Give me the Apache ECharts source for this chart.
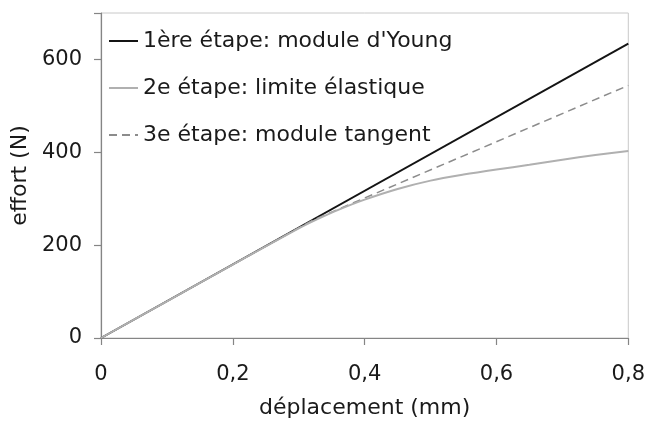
<!DOCTYPE html>
<html>
<head>
<meta charset="utf-8">
<script src="https://cdn.jsdelivr.net/npm/echarts@6/dist/echarts.min.js"></script>
<style>
html, body { margin: 0; padding: 0; background: #fff; }
#chart { width: 648px; height: 424px; }
</style>
</head>
<body>
<div id="chart"></div>
<script>
// noms des séries
var seriesNames = ["1ère étape: module d'Young", "2e étape: limite élastique", "3e étape: module tangent"];
// 1ère étape : droite élastique
var young = [[0, 0], [0.8, 634]];
// 2e étape : courbe avec limite élastique
var limite = [[0, 0], [0.1, 79], [0.2, 158], [0.3, 236], [0.33, 257], [0.36, 276], [0.4, 298],
    [0.45, 321], [0.5, 339], [0.55, 352], [0.6, 363], [0.65, 373], [0.7, 384], [0.75, 394], [0.8, 403]];
// 3e étape : module tangent
var tangent = [[0, 0], [0.32, 253], [0.8, 544]];
var xTicks = [0, 0.2, 0.4, 0.6, 0.8];
var yTicks = [0, 200, 400, 600];

var myChart = echarts.init(document.getElementById('chart'));
var font = 'DejaVu Sans, Liberation Sans, sans-serif';
var option = {
    animation: false,
    textStyle: { fontFamily: font },
    grid: {
        left: 101, right: 17, top: 13, bottom: 84,
        show: true,
        borderColor: '#c8c8c8',
        borderWidth: 1
    },
    legend: {
        orient: 'vertical',
        left: 108, top: 29,
        padding: 0,
        itemWidth: 29, itemHeight: 14,
        itemGap: 23,
        itemStyle: { opacity: 0 },
        textStyle: { fontSize: 22, lineHeight: 24, color: '#1a1a1a', fontFamily: font },
        data: seriesNames
    },
    xAxis: {
        type: 'value',
        min: 0, max: 0.8, interval: 0.2,
        name: 'déplacement (mm)',
        nameLocation: 'middle',
        nameGap: 59,
        nameTextStyle: { fontSize: 22, color: '#1a1a1a' },
        axisLine: { lineStyle: { color: '#858585', width: 1.2 } },
        axisTick: { show: true, length: 7, lineStyle: { color: '#858585', width: 1.2 } },
        axisLabel: {
            fontSize: 21, color: '#1a1a1a', margin: 26,
            formatter: function (v) {
                var r = Math.round(v * 10) / 10;
                return xTicks.indexOf(r) >= 0 ? String(r).replace('.', ',') : '';
            }
        },
        splitLine: { show: false }
    },
    yAxis: {
        type: 'value',
        min: 0, max: 700, interval: 200,
        name: 'effort (N)',
        nameLocation: 'middle',
        nameGap: 68,
        nameTextStyle: { fontSize: 22, color: '#1a1a1a' },
        axisLine: { show: true, lineStyle: { color: '#858585', width: 1.2 } },
        axisTick: { show: true, length: 7, lineStyle: { color: '#858585', width: 1.2 } },
        axisLabel: {
            fontSize: 21, color: '#1a1a1a', margin: 19,
            formatter: function (v) { return yTicks.indexOf(v) >= 0 ? String(v) : ''; }
        },
        splitLine: { show: false }
    },
    series: [
        {
            name: seriesNames[0], type: 'line', data: young, symbol: 'none',
            lineStyle: { color: '#141414', width: 2 }, itemStyle: { color: '#141414' }, z: 2
        },
        {
            name: seriesNames[1], type: 'line', data: limite, symbol: 'none', smooth: 0.3,
            lineStyle: { color: '#b0b0b0', width: 2 }, itemStyle: { color: '#b0b0b0' }, z: 4
        },
        {
            name: seriesNames[2], type: 'line', data: tangent, symbol: 'none',
            lineStyle: { color: '#8c8c8c', width: 1.5, type: [8, 5] }, itemStyle: { color: '#8c8c8c' }, z: 3
        }
    ]
};
myChart.setOption(option);
</script>
</body>
</html>
